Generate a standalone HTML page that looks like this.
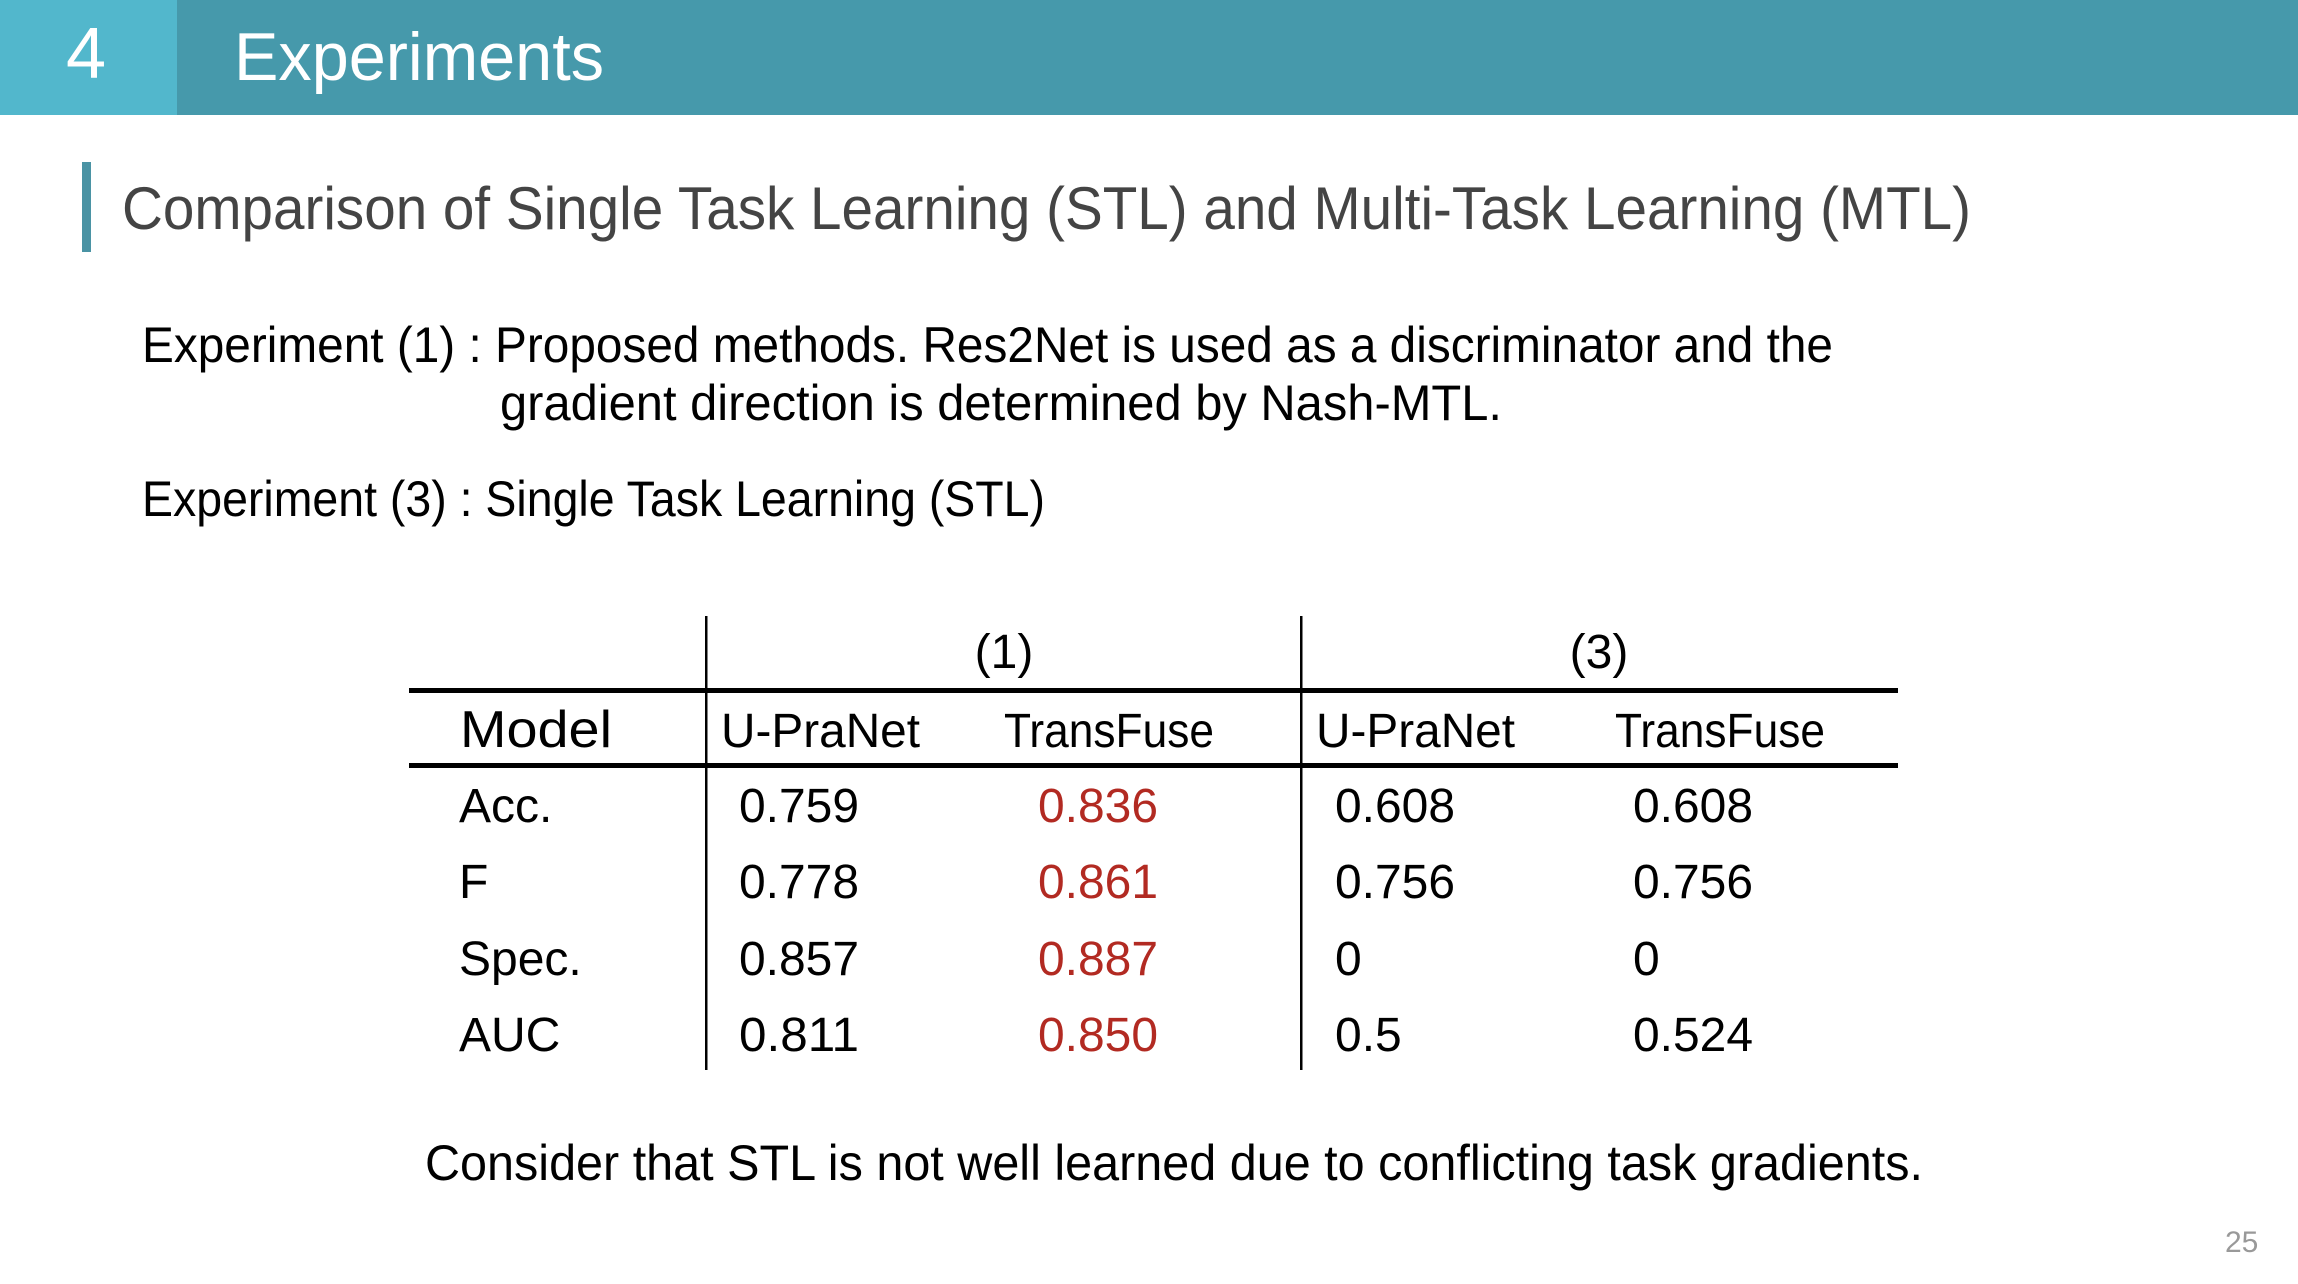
<!DOCTYPE html>
<html><head><meta charset="utf-8"><style>
html,body{margin:0;padding:0;background:#fff;}
svg{display:block;font-family:"Liberation Sans",sans-serif;}
</style></head><body>
<svg width="2298" height="1284" viewBox="0 0 2298 1284">
<rect x="0" y="0" width="2298" height="115" fill="#4699ab"/>
<rect x="0" y="0" width="177" height="115" fill="#52b7cc"/>
<text x="66" y="78" font-size="72" fill="#fff">4</text>
<text x="234" y="80" font-size="68" fill="#fff" textLength="370" lengthAdjust="spacingAndGlyphs">Experiments</text>
<rect x="82" y="162" width="9" height="90" fill="#4a93a4"/>
<text x="122" y="229" font-size="60" fill="#444" textLength="1849" lengthAdjust="spacingAndGlyphs">Comparison of Single Task Learning (STL) and Multi-Task Learning (MTL)</text>
<g fill="#000" font-size="50">
<text x="142" y="362" textLength="1691" lengthAdjust="spacingAndGlyphs">Experiment (1) : Proposed methods. Res2Net is used as a discriminator and the</text>
<text x="500" y="420" textLength="1002" lengthAdjust="spacingAndGlyphs">gradient direction is determined by Nash-MTL.</text>
<text x="142" y="516" textLength="903" lengthAdjust="spacingAndGlyphs">Experiment (3) : Single Task Learning (STL)</text>
</g>
<g id="table"></g>
<text x="425" y="1180" font-size="50" fill="#000" textLength="1498" lengthAdjust="spacingAndGlyphs">Consider that STL is not well learned due to conflicting task gradients.</text>
<text x="2225" y="1252" font-size="30" fill="#999">25</text>
</svg>
<script>
const rowLabels = ["Acc.", "F", "Spec.", "AUC"];
const exp1UPraNet = ["0.759", "0.778", "0.857", "0.811"];
const exp1TransFuse = ["0.836", "0.861", "0.887", "0.850"];
const exp3UPraNet = ["0.608", "0.756", "0", "0.5"];
const exp3TransFuse = ["0.608", "0.756", "0", "0.524"];
const headers = ["Model", "U-PraNet", "TransFuse", "U-PraNet", "TransFuse"];
const groups = ["(1)", "(3)"];

const NS = "http://www.w3.org/2000/svg";
const g = document.getElementById("table");
function mk(tag, attrs, txt){
  const e = document.createElementNS(NS, tag);
  for (const k in attrs) e.setAttribute(k, attrs[k]);
  if (txt !== undefined) e.textContent = txt;
  g.appendChild(e);
  return e;
}
let e;
e = mk("rect",{x:409,y:688,width:1489,height:5,fill:"#000"});


e = mk("rect",{x:409,y:763,width:1489,height:5,fill:"#000"});


[706, 1301].forEach(function(x){
  e = mk("rect",{x:x-1,y:616,width:2.5,height:454,fill:"#000"});
  
  
});
const groupX = [1004, 1599];
groups.forEach(function(t, i){
  e = mk("text",{x:groupX[i],y:668,"font-size":48,"text-anchor":"middle",fill:"#000"}, t);
  
  
});
const headX = [460, 721, 1004, 1316, 1615];
const headW = [152, 199, 210, 199, 210];
headers.forEach(function(t, i){
  e = mk("text",{x:headX[i],y:747,"font-size":i===0?52:48,fill:"#000",textLength:headW[i],lengthAdjust:"spacingAndGlyphs"}, t);
  
  
});
const colX = [459, 739, 1038, 1335, 1633];
const rowY = [822, 898, 975, 1051];
const cols = [rowLabels, exp1UPraNet, exp1TransFuse, exp3UPraNet, exp3TransFuse];
cols.forEach(function(arr, c){
  arr.forEach(function(v, r){
    const w = v.length >= 5 ? 120 : null;
    const attrs = {x:colX[c], y:rowY[r], "font-size":48, fill: c===2 ? "#b22a22" : "#000"};
    if (w && c>0) { attrs.textLength = w; attrs.lengthAdjust = "spacingAndGlyphs"; }
    e = mk("text", attrs, v);
    
    
  });
});
</script>
</body></html>
